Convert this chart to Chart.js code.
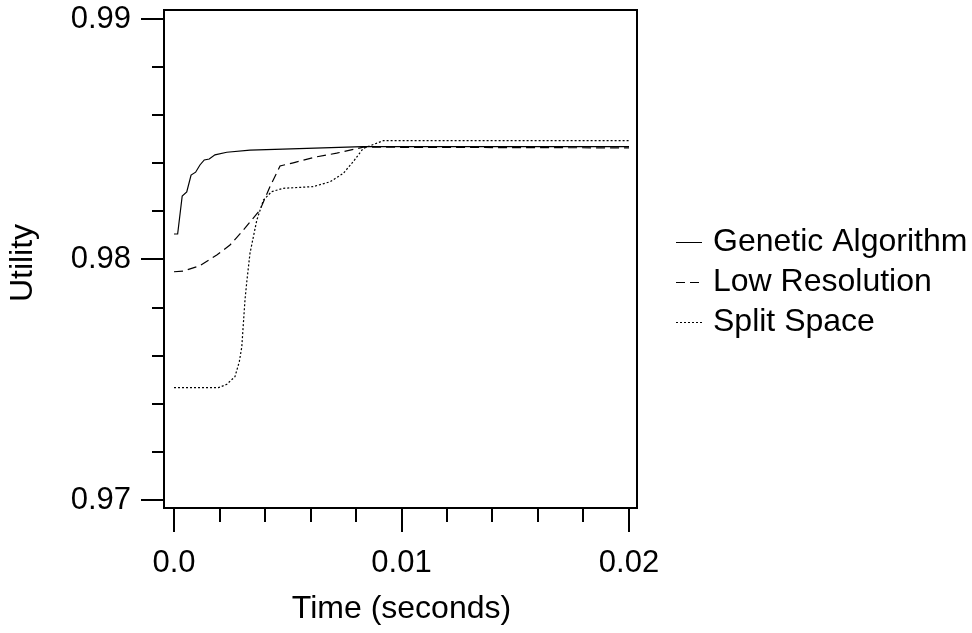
<!DOCTYPE html>
<html>
<head>
<meta charset="utf-8">
<script src="https://cdn.jsdelivr.net/npm/chart.js@4"></script>
<style>
  html, body { margin: 0; padding: 0; background: #fff; }
  canvas { display: block; }
</style>
</head>
<body>
<canvas id="utilityChart" width="972" height="633"></canvas>
<script>
// series: time (s) / utility
const gaTime = [0, 0.00016, 0.00036, 0.00056, 0.00075, 0.00095, 0.00114, 0.00133, 0.00155, 0.0018, 0.00232, 0.00334, 0.00479, 0.0083, 0.02];
const gaUtility = [0.98106, 0.98106, 0.98264, 0.98281, 0.98351, 0.98363, 0.98393, 0.98414, 0.98418, 0.98435, 0.98446, 0.98455, 0.98459, 0.98469, 0.98469];

const lowTime = [0, 0.00041, 0.00114, 0.00188, 0.00246, 0.00305, 0.00378, 0.00422, 0.00466, 0.00524, 0.00627, 0.00715, 0.00832, 0.02];
const lowUtility = [0.97949, 0.97952, 0.97974, 0.98019, 0.9806, 0.98123, 0.98206, 0.98303, 0.98389, 0.98402, 0.98427, 0.98442, 0.98467, 0.98464];

const splitTime = [0, 0.00195, 0.00232, 0.00268, 0.00287, 0.00298, 0.00305, 0.00312, 0.0032, 0.00334, 0.00364, 0.00393, 0.00429, 0.0048, 0.00612, 0.00686, 0.00744, 0.00788, 0.00832, 0.0092, 0.02];
const splitUtility = [0.97467, 0.97467, 0.97481, 0.97513, 0.97575, 0.97637, 0.97735, 0.97832, 0.97908, 0.98026, 0.98164, 0.98247, 0.98282, 0.98296, 0.98303, 0.98323, 0.98358, 0.98407, 0.98462, 0.98494, 0.98494];

const seriesNames = ['Genetic Algorithm', 'Low Resolution', 'Split Space'];

// axis ticks
const xMajorTicks = [0, 0.01, 0.02];
const xTickLabels = ['0.0', '0.01', '0.02'];
const yMajorTicks = [0.97, 0.98, 0.99];
const yTickLabels = ['0.97', '0.98', '0.99'];
const minorStep = 0.002;

const TICK_FONT = '31px "Liberation Sans", Arial, sans-serif';
const TEXT_FONT = '32px "Liberation Sans", Arial, sans-serif';
const dashStyles = [[], [9, 5], [2, 2]];

function toPoints(xs, ys) {
    return xs.map((x, i) => ({ x: x, y: ys[i] }));
}

// frame, offset ticks, labels and legend drawn from the chart's scales
const framePlugin = {
    id: 'frame',
    afterDraw(chart) {
        const ctx = chart.ctx;
        const area = chart.chartArea;
        const xs = chart.scales.x;
        const ys = chart.scales.y;
        ctx.save();
        ctx.strokeStyle = '#000';
        ctx.fillStyle = '#000';
        ctx.lineWidth = 2;
        ctx.strokeRect(area.left, area.top, area.right - area.left, area.bottom - area.top);

        // y ticks (stick out to the left of the box)
        for (let v = yMajorTicks[0]; v <= yMajorTicks[yMajorTicks.length - 1] + 1e-9; v += minorStep) {
            const py = Math.round(ys.getPixelForValue(v));
            const major = yMajorTicks.some(t => Math.abs(t - v) < 1e-9);
            ctx.beginPath();
            ctx.moveTo(area.left - (major ? 23 : 12), py);
            ctx.lineTo(area.left, py);
            ctx.stroke();
        }
        // x ticks (hang below the box)
        for (let v = xMajorTicks[0]; v <= xMajorTicks[xMajorTicks.length - 1] + 1e-9; v += minorStep) {
            const px = Math.round(xs.getPixelForValue(v));
            const major = xMajorTicks.some(t => Math.abs(t - v) < 1e-9);
            ctx.beginPath();
            ctx.moveTo(px, area.bottom);
            ctx.lineTo(px, area.bottom + (major ? 24 : 14));
            ctx.stroke();
        }

        ctx.font = TICK_FONT;
        ctx.textBaseline = 'middle';
        ctx.textAlign = 'right';
        yMajorTicks.forEach((t, i) => {
            ctx.fillText(yTickLabels[i], area.left - 33, ys.getPixelForValue(t));
        });
        ctx.textAlign = 'center';
        xMajorTicks.forEach((t, i) => {
            ctx.fillText(xTickLabels[i], xs.getPixelForValue(t), area.bottom + 55);
        });

        // axis titles
        ctx.font = TEXT_FONT;
        ctx.fillText('Time (seconds)', xs.getPixelForValue(0.01), area.bottom + 101);
        ctx.save();
        ctx.translate(23, (area.top + area.bottom) / 2 + 4);
        ctx.rotate(-Math.PI / 2);
        ctx.fillText('Utility', 0, 0);
        ctx.restore();

        // legend
        ctx.textAlign = 'left';
        ctx.lineWidth = 1;
        seriesNames.forEach((name, i) => {
            const y = 242 + i * 40;
            ctx.setLineDash(dashStyles[i]);
            ctx.beginPath();
            ctx.moveTo(676, y + 0.5);
            ctx.lineTo(702, y + 0.5);
            ctx.stroke();
            ctx.setLineDash([]);
            ctx.fillText(name, 713, y);
        });
        ctx.restore();
    }
};

new Chart(document.getElementById('utilityChart'), {
    type: 'line',
    data: {
        datasets: [
            { label: seriesNames[0], data: toPoints(gaTime, gaUtility), borderDash: dashStyles[0] },
            { label: seriesNames[1], data: toPoints(lowTime, lowUtility), borderDash: dashStyles[1] },
            { label: seriesNames[2], data: toPoints(splitTime, splitUtility), borderDash: dashStyles[2] }
        ]
    },
    options: {
        responsive: false,
        animation: false,
        devicePixelRatio: 1,
        layout: { padding: { left: 164, top: 10, right: 335, bottom: 125 } },
        elements: {
            line: { borderColor: '#000', borderWidth: 1.2, tension: 0, fill: false },
            point: { radius: 0 }
        },
        scales: {
            x: { type: 'linear', display: false, min: -0.00044, max: 0.020352 },
            y: { type: 'linear', display: false, min: 0.969667, max: 0.990374 }
        },
        plugins: {
            legend: { display: false },
            tooltip: { enabled: false }
        }
    },
    plugins: [framePlugin]
});
</script>
</body>
</html>
